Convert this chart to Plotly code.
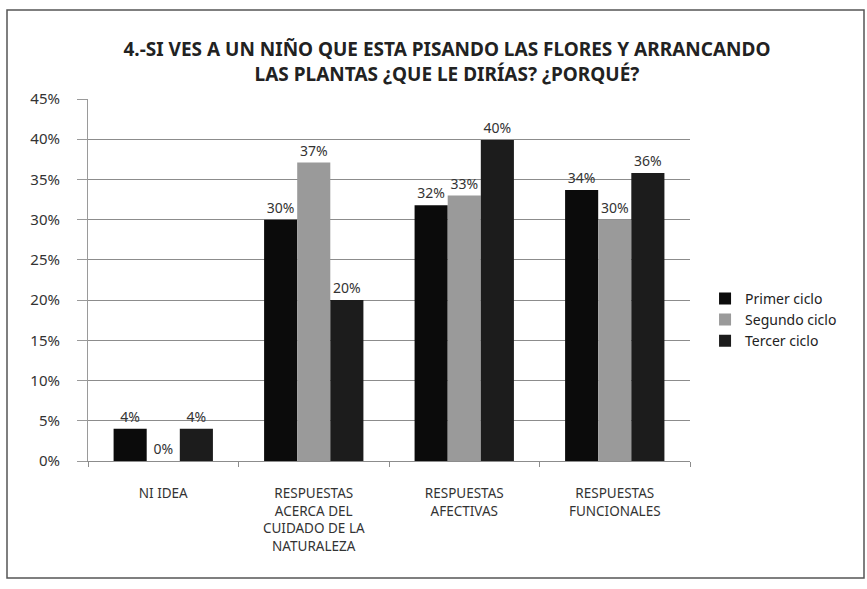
import plotly.graph_objects as go

categories = [
    "NI IDEA",
    "RESPUESTAS<br>ACERCA DEL<br>CUIDADO DE LA<br>NATURALEZA",
    "RESPUESTAS<br>AFECTIVAS",
    "RESPUESTAS<br>FUNCIONALES",
]
primer_ciclo = [0.04, 0.30, 0.318, 0.337]
segundo_ciclo = [0.0, 0.371, 0.33, 0.30]
tercer_ciclo = [0.04, 0.20, 0.399, 0.358]
y_ticks = [0, 0.05, 0.10, 0.15, 0.20, 0.25, 0.30, 0.35, 0.40, 0.45]

FONT = "Noto Sans, Open Sans, sans-serif"
TEXT_COLOR = "#333333"

fig = go.Figure()

series = [
    ("Primer ciclo", primer_ciclo, "#0b0b0b"),
    ("Segundo ciclo", segundo_ciclo, "#9a9a9a"),
    ("Tercer ciclo", tercer_ciclo, "#1c1c1c"),
]
for name, values, color in series:
    fig.add_trace(go.Bar(
        x=categories,
        y=values,
        name=name,
        marker=dict(color=color, line=dict(width=0)),
        texttemplate="%{y:.0%}",
        textposition="outside",
        textfont=dict(family=FONT, size=14, color=TEXT_COLOR),
        cliponaxis=False,
    ))

fig.update_layout(
    width=867,
    height=589,
    margin=dict(l=88, r=177, t=99, b=128),
    paper_bgcolor="white",
    plot_bgcolor="white",
    font=dict(family=FONT, color=TEXT_COLOR),
    barmode="group",
    bargap=0.34,
    bargroupgap=0,
    title=dict(
        text="<b>4.-SI VES A UN NIÑO QUE ESTA PISANDO LAS FLORES Y ARRANCANDO<br>LAS PLANTAS ¿QUE LE DIRÍAS? ¿PORQUÉ?</b>",
        x=(447 - 88) / 602,
        xanchor="center",
        xref="paper",
        y=0.905,
        yanchor="middle",
        font=dict(family=FONT, size=19, color="#222222"),
    ),
    legend=dict(
        x=1.025,
        xanchor="left",
        y=0.39,
        yanchor="middle",
        font=dict(family=FONT, size=14, color="#222222"),
        tracegroupgap=2,
        bgcolor="rgba(0,0,0,0)",
    ),
    showlegend=True,
)

fig.update_yaxes(
    range=[0, 0.45],
    tickvals=y_ticks,
    tickformat=".0%",
    tickfont=dict(family=FONT, size=15, color=TEXT_COLOR),
    showgrid=True,
    gridcolor="#8c8c8c",
    gridwidth=1,
    showline=True,
    linecolor="#9a9a9a",
    linewidth=1,
    ticks="outside",
    ticklen=10,
    tickcolor="#9a9a9a",
    ticklabelstandoff=14,
    zeroline=False,
)

fig.update_xaxes(
    tickfont=dict(family=FONT, size=13.5, color=TEXT_COLOR),
    showline=True,
    linecolor="#8c8c8c",
    linewidth=1,
    ticks="outside",
    tickson="boundaries",
    ticklen=5,
    tickcolor="#8c8c8c",
    ticklabelstandoff=20,
)

# outer frame around the whole chart
fig.add_shape(
    type="rect",
    xref="paper", yref="paper",
    x0=(7 - 88) / 602, x1=(864 - 88) / 602,
    y0=(461 - 578) / 362, y1=(461 - 10) / 362,
    line=dict(color="#555555", width=1.5),
    fillcolor="rgba(0,0,0,0)",
    layer="below",
)

fig.write_html(
    "out.html",
    config={"displayModeBar": False},
    post_script="document.body.style.margin='0';",
)
